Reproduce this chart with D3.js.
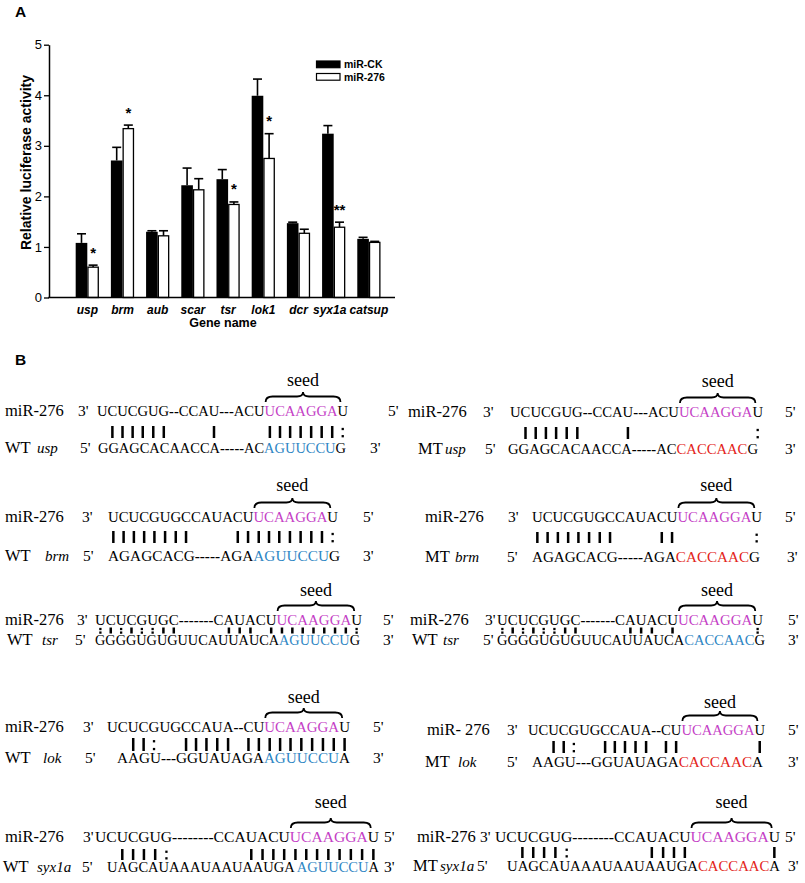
<!DOCTYPE html>
<html><head><meta charset="utf-8">
<script src="https://cdn.jsdelivr.net/npm/d3@7"></script>
<style>body{margin:0;background:#fff} svg{display:block}</style>
</head><body><svg id="fig" width="805" height="883"></svg>
<script>
// ---------------- Panel A data ----------------
const genes = ["usp","brm","aub","scar","tsr","lok1","dcr","syx1a","catsup"];
const seriesNames = ["miR-CK","miR-276"];
const ckValues  = [1.08,2.71,1.30,2.22,2.34,3.99,1.47,3.24,1.16];
const ckErrors  = [0.18,0.26,0.02,0.34,0.19,0.33,0.02,0.16,0.03];
const mirValues = [0.60,3.34,1.22,2.13,1.84,2.75,1.27,1.39,1.09];
const mirErrors = [0.04,0.07,0.10,0.22,0.05,0.49,0.08,0.10,0.02];
const significance = ["*","*","","","*","*","","**",""];
const yTicks = [0,1,2,3,4,5];

// ---------------- Panel B data ----------------
const mirNames    = ["miR-276","miR-276","miR-276","miR-276","miR-276","miR-276","miR-276","miR- 276","miR-276","miR-276"];
const targetKinds = ["WT","MT","WT","MT","WT","WT","WT","MT","WT","MT"];
const targetGenes = ["usp","usp","brm","brm","tsr","tsr","lok","lok","syx1a","syx1a"];
const mirSeqs = [
  "UCUCGUG--CCAU---ACU[UCAAGGA]U",
  "UCUCGUG--CCAU---ACU[UCAAGGA]U",
  "UCUCGUGCCAUACU[UCAAGGA]U",
  "UCUCGUGCCAUACU[UCAAGGA]U",
  "UCUCGUGC-------CAUACU[UCAAGGA]U",
  "UCUCGUGC-------CAUACU[UCAAGGA]U",
  "UCUCGUGCCAUA--CU[UCAAGGA]U",
  "UCUCGUGCCAUA--CU[UCAAGGA]U",
  "UCUCGUG--------CCAUACU[UCAAGGA]U",
  "UCUCGUG--------CCAUACU[UCAAGGA]U"
];
const targetSeqs = [
  "GGAGCACAACCA-----AC[AGUUCCU]G",
  "GGAGCACAACCA-----AC[CACCAAC]G",
  "AGAGCACG-----AGA[AGUUCCU]G",
  "AGAGCACG-----AGA[CACCAAC]G",
  "GGGGUGUGUUCAUUAUCA[AGUUCCU]G",
  "GGGGUGUGUUCAUUAUCA[CACCAAC]G",
  "AAGU---GGUAUAGA[AGUUCCU]A",
  "AAGU---GGUAUAGA[CACCAAC]A",
  "UAGCAUAAAUAAUAAUGA [AGUUCCU]A",
  "UAGCAUAAAUAAUAAUGA[CACCAAC]A"
];
const pairSeqs = [
  " ||||||     |      |||||||:",
  " ||||||     |             :",
  "||||||||    |||||||||:",
  "||||||||    ||       :",
  ":|:|::||        ||| ||||||||:",
  ":|:|::||        ||| |       :",
  "  ||:  |||||  ||||||||||",
  "  ||:  |||||  ||       |",
  "  ||||:           ||||||||||||",
  "  ||||:           ||||       |"
];

// ---------------- drawing ----------------
const svg = d3.select("#fig");
svg.append("rect").attr("width",805).attr("height",883).attr("fill","#fff");
const SANS = "'Liberation Sans', Arial, Helvetica, sans-serif";
const SERIF = "'Liberation Serif', 'Times New Roman', Times, serif";

svg.append("text").attr("x",15).attr("y",17).text("A")
  .attr("font-family",SANS).attr("font-weight","bold").attr("font-size",15.5);
svg.append("text").attr("x",15).attr("y",365).text("B")
  .attr("font-family",SANS).attr("font-weight","bold").attr("font-size",15.5);

const yAxisX = 49, y0px = 297.5;
const y = d3.scaleLinear().domain([0,5]).range([y0px,44.7]);
const x0 = d3.scaleBand().domain(genes).range([69.7,386.5]).paddingInner(0.34).paddingOuter(0.17);
const x1 = d3.scaleBand().domain(seriesNames).range([0,x0.bandwidth()]);

const rows = genes.map((g,i)=>({gene:g, vals:[
  {s:"miR-CK", v:ckValues[i], e:ckErrors[i]},
  {s:"miR-276", v:mirValues[i], e:mirErrors[i]}], sig:significance[i]}));

const gA = svg.append("g");
const grp = gA.selectAll("g.grp").data(rows).join("g").attr("class","grp")
  .attr("transform",d=>`translate(${x0(d.gene)},0)`);

grp.selectAll("g.err").data(d=>d.vals).join("g").attr("class","err").each(function(d){
  const cx = x1(d.s)+x1.bandwidth()/2;
  const g = d3.select(this);
  g.append("line").attr("x1",cx).attr("x2",cx).attr("y1",y(d.v)).attr("y2",y(d.v+d.e))
    .attr("stroke","#000").attr("stroke-width",1.6);
  g.append("line").attr("x1",cx-4.5).attr("x2",cx+4.5).attr("y1",y(d.v+d.e)).attr("y2",y(d.v+d.e))
    .attr("stroke","#000").attr("stroke-width",1.6);
});
grp.selectAll("rect.bar").data(d=>d.vals).join("rect").attr("class","bar")
  .attr("x",d=>x1(d.s)+(d.s==="miR-CK"?0:0.65))
  .attr("width",d=>x1.bandwidth()-(d.s==="miR-CK"?0:1.3))
  .attr("y",d=>y(d.v))
  .attr("height",d=>y(0)-y(d.v))
  .attr("fill",d=>d.s==="miR-CK"?"#000":"#fff")
  .attr("stroke","#000").attr("stroke-width",d=>d.s==="miR-CK"?0:1.3);

grp.append("text").text(d=>d.sig)
  .attr("x",x1("miR-276")+x1.bandwidth()/2)
  .attr("y",d=>y(d.vals[1].v+d.vals[1].e)-7.5)
  .attr("text-anchor","middle").attr("font-family",SANS).attr("font-weight","bold").attr("font-size",15);

const yAx = gA.append("g").attr("transform",`translate(${yAxisX},0)`)
  .call(d3.axisLeft(y).tickValues(yTicks).tickFormat(d3.format("d")).tickSize(5).tickSizeOuter(0).tickPadding(2));
yAx.select(".domain").attr("stroke-width",1.5);
yAx.selectAll(".tick line").attr("stroke-width",1.3);
yAx.selectAll("text").attr("font-family",SANS).attr("font-size",13);

const xAx = gA.append("g").attr("transform",`translate(0,${y0px})`)
  .call(d3.axisBottom(x0).tickSize(0).tickPadding(8));
xAx.select(".domain").remove();
xAx.selectAll("text").attr("font-family",SANS).attr("font-size",12)
  .attr("font-weight","bold").attr("font-style","italic");
xAx.selectAll(".tick").filter(d=>d==="syx1a").select("text").attr("dx",-4);
gA.append("line").attr("x1",yAxisX-0.75).attr("x2",395).attr("y1",y0px).attr("y2",y0px)
  .attr("stroke","#000").attr("stroke-width",1.5);

gA.append("text").attr("x",223).attr("y",327).attr("text-anchor","middle").text("Gene name")
  .attr("font-family",SANS).attr("font-weight","bold").attr("font-size",12.5);
gA.append("text").attr("transform","translate(30.5,162.5) rotate(-90)").attr("text-anchor","middle")
  .text("Relative luciferase activity")
  .attr("font-family",SANS).attr("font-weight","bold").attr("font-size",14);

const leg = gA.append("g");
seriesNames.forEach((s,i)=>{
  leg.append("rect").attr("x",316.5).attr("y",61+12.5*i).attr("width",23.5).attr("height",6.7)
    .attr("fill",i===0?"#000":"#fff").attr("stroke","#000").attr("stroke-width",1.2);
  leg.append("text").attr("x",344).attr("y",68.3+13*i).text(s)
    .attr("font-family",SANS).attr("font-weight","bold").attr("font-size",10.5);
});

// ---------------- Panel B ----------------
const layoutB = [
 {lab:5,  p3:78,  seq:[97,348],  p5:388, tlab:5,   gene:37,  t5:80,  tseq:[98,346],  t3:370, seedY:386, topY:416, barY:[426,438], botY:453},
 {lab:408,p3:483, seq:[510,763], p5:785, tlab:418, gene:445, t5:485, tseq:[508,758], t3:785, seedY:387, topY:417, barY:[427,439], botY:454},
 {lab:5,  p3:82,  seq:[108,338], p5:363, tlab:5,   gene:45,  t5:83,  tseq:[108,340], t3:363, seedY:491, topY:522, barY:[531,543], botY:561},
 {lab:425,p3:508, seq:[532,762], p5:785, tlab:425, gene:455, t5:507, tseq:[532,760], t3:787, seedY:491, topY:522, barY:[532,543], botY:562},
 {lab:5,  p3:77,  seq:[95,362],  p5:383, tlab:7,   gene:42,  t5:75,  tseq:[95,360],  t3:383, seedY:596, topY:625, barY:[627.5,633.5], botY:645},
 {lab:410,p3:485, seq:[497,763], p5:788, tlab:412, gene:443, t5:483, tseq:[497,765], t3:788, seedY:596, topY:625, barY:[627.5,633.5], botY:645},
 {lab:5,  p3:83,  seq:[107,350], p5:373, tlab:5,   gene:43,  t5:85,  tseq:[117,350], t3:373, seedY:703, topY:732, barY:[738,751], botY:763},
 {lab:427,p3:507, seq:[528,765], p5:788, tlab:425, gene:458, t5:507, tseq:[532,763], t3:788, seedY:708, topY:735, barY:[741,753], botY:767},
 {lab:5,  p3:83,  seq:[95,379],  p5:384, tlab:3,   gene:37,  t5:82,  tseq:[107,379], t3:384, seedY:808, topY:842, barY:[849,860], botY:872},
 {lab:417,p3:480, seq:[495,780], p5:785, tlab:413, gene:440, t5:477, tseq:[507,780], t3:788, seedY:808, topY:842, barY:[847,858], botY:871}
];
const SEED_COLOR = "#c53fc6", WT_COLOR = "#2e86c4", MT_COLOR = "#e32420";
const SEQ_FS = 15.5, LAB_FS = 16.5, GENE_FS = 15;

function parseSeq(s){
  const segs=[]; let plain=""; let hl=false; let hlStart=-1, hlEnd=-1;
  let cur=null;
  for(const ch of s){
    if(ch==="["){hl=true; hlStart=plain.length; cur=null; continue;}
    if(ch==="]"){hl=false; hlEnd=plain.length-1; cur=null; continue;}
    const type = hl?"hl":(ch==="-"?"dash":"norm");
    if(!cur||cur.type!==type){cur={type,text:""}; segs.push(cur);}
    cur.text+=ch; plain+=ch;
  }
  return {segs,plain,hlStart,hlEnd};
}
function drawSeq(g,str,x0,x1,yb,hlColor){
  const p = parseSeq(str);
  const t = g.append("text").attr("x",x0).attr("y",yb)
    .attr("textLength",x1-x0).attr("lengthAdjust","spacingAndGlyphs")
    .attr("font-family",SERIF).attr("font-size",SEQ_FS).style("white-space","pre");
  p.segs.forEach(s=>{
    const ts = t.append("tspan").text(s.text).attr("fill",s.type==="hl"?hlColor:"#000");
    if(s.type==="dash") ts.attr("font-weight","bold");
  });
  return {node:t.node(),p};
}
function charBox(node,i,n,x0,x1){
  try{
    const a=node.getStartPositionOfChar(i).x, b=node.getEndPositionOfChar(i).x;
    return [a,b];
  }catch(e){ const w=(x1-x0)/n; return [x0+w*i,x0+w*(i+1)]; }
}
function plainText(g,x,yb,txt,opts={}){
  const t=g.append("text").attr("x",x).attr("y",yb).text(txt)
    .attr("font-family",SERIF).attr("font-size",opts.fs||LAB_FS).style("white-space","pre");
  if(opts.italic) t.attr("font-style","italic");
  return t;
}

const gB = svg.append("g");
layoutB.forEach((L,i)=>{
  const g = gB.append("g");
  plainText(g,L.lab,L.topY,mirNames[i]);
  plainText(g,L.p3,L.topY,"3'",{fs:SEQ_FS});
  plainText(g,L.p5,L.topY,"5'",{fs:SEQ_FS});
  plainText(g,L.tlab,L.botY,targetKinds[i]);
  plainText(g,L.gene,L.botY,targetGenes[i],{italic:true,fs:GENE_FS});
  plainText(g,L.t5,L.botY,"5'",{fs:SEQ_FS});
  plainText(g,L.t3,L.botY,"3'",{fs:SEQ_FS});
  const top = drawSeq(g,mirSeqs[i],L.seq[0],L.seq[1],L.topY,SEED_COLOR);
  drawSeq(g,targetSeqs[i],L.tseq[0],L.tseq[1],L.botY,targetKinds[i]==="WT"?WT_COLOR:MT_COLOR);
  const n = top.p.plain.length;
  const pr = pairSeqs[i];
  const [by0,by1]=L.barY, bh=by1-by0;
  for(let k=0;k<pr.length;k++){
    const c=pr[k]; if(c===" ") continue;
    const [a,b]=charBox(top.node,k,n,L.seq[0],L.seq[1]);
    const cx=(a+b)/2;
    if(c==="|"){
      g.append("rect").attr("x",cx-1.25).attr("y",by0).attr("width",2.5).attr("height",bh).attr("fill","#000");
    } else {
      const d=2.3;
      g.append("rect").attr("x",cx-d/2).attr("y",by0+bh*0.25-d/2).attr("width",d).attr("height",d).attr("fill","#000");
      g.append("rect").attr("x",cx-d/2).attr("y",by1-bh*0.15-d/2).attr("width",d).attr("height",d).attr("fill","#000");
    }
  }
  const sa = charBox(top.node,top.p.hlStart,n,L.seq[0],L.seq[1])[0];
  const sb = charBox(top.node,top.p.hlEnd,n,L.seq[0],L.seq[1])[1];
  const xa=sa+1, xb=sb+3, xc=(xa+xb)/2;
  const yt=L.topY-24, ym=yt+4.5, ye=L.topY-14;
  const path = d3.path();
  path.moveTo(xa,ye);
  path.quadraticCurveTo(xa,ym,xa+7,ym);
  path.lineTo(xc-6,ym);
  path.quadraticCurveTo(xc,ym,xc,yt);
  path.quadraticCurveTo(xc,ym,xc+6,ym);
  path.lineTo(xb-7,ym);
  path.quadraticCurveTo(xb,ym,xb,ye);
  g.append("path").attr("d",path.toString()).attr("fill","none").attr("stroke","#000").attr("stroke-width",1.8);
  g.append("text").attr("x",xc).attr("y",L.seedY).attr("text-anchor","middle").text("seed")
    .attr("font-family",SERIF).attr("font-size",18);
});
</script></body></html>
